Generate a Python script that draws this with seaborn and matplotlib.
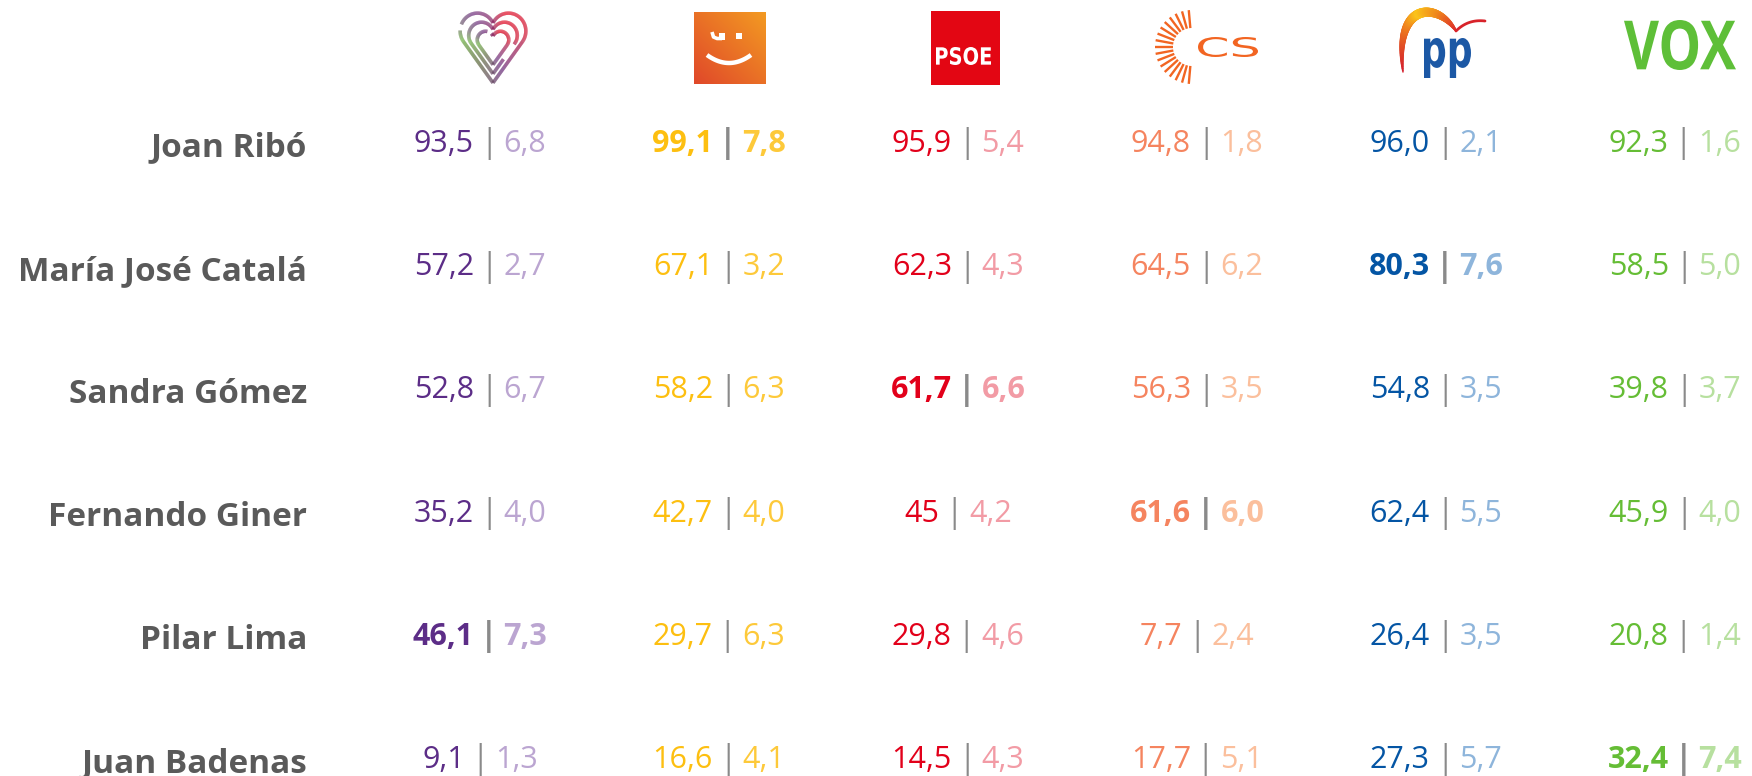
import numpy as np
import pandas as pd
import matplotlib
matplotlib.use("Agg")
import matplotlib.pyplot as plt
import seaborn as sns
from matplotlib.textpath import TextPath
from matplotlib.font_manager import FontProperties
from matplotlib.patches import PathPatch, Rectangle
from matplotlib.collections import LineCollection
from matplotlib.transforms import Affine2D, offset_copy
from matplotlib.colors import ListedColormap, LinearSegmentedColormap, to_rgb

# ---------------- data ----------------
candidates = ["Joan Ribó", "María José Catalá", "Sandra Gómez",
              "Fernando Giner", "Pilar Lima", "Juan Badenas"]
parties = ["Podem", "Compromís", "PSOE", "Cs", "PP", "VOX"]
own_party = ["Compromís", "PP", "PSOE", "Cs", "Podem", "VOX"]

# first figure of each cell (per candidate, in party order)
known_pct = [
    [93.5, 99.1, 95.9, 94.8, 96.0, 92.3],
    [57.2, 67.1, 62.3, 64.5, 80.3, 58.5],
    [52.8, 58.2, 61.7, 56.3, 54.8, 39.8],
    [35.2, 42.7, 45, 61.6, 62.4, 45.9],
    [46.1, 29.7, 29.8, 7.7, 26.4, 20.8],
    [9.1, 16.6, 14.5, 17.7, 27.3, 32.4],
]
# second figure of each cell
rating = [
    [6.8, 7.8, 5.4, 1.8, 2.1, 1.6],
    [2.7, 3.2, 4.3, 6.2, 7.6, 5.0],
    [6.7, 6.3, 6.6, 3.5, 3.5, 3.7],
    [4.0, 4.0, 4.2, 6.0, 5.5, 4.0],
    [7.3, 6.3, 4.6, 2.4, 3.5, 1.4],
    [1.3, 4.1, 4.3, 5.1, 5.7, 7.4],
]

main_colors = ["#5c2d87", "#fdbf10", "#e2001a", "#f5845f", "#0455a4", "#65bd35"]
light_colors = ["#bba5d1", "#fdc93a", "#f29ba5", "#fbbf9c", "#8eb5db", "#b7e09f"]
sep_color = "#8a8a8a"
name_color = "#5a5a5a"


def fmt(v):
    if isinstance(v, int):
        return str(v)
    return f"{v:.1f}".replace(".", ",")


sns.set_theme(style="white")
plt.rcParams["font.family"] = ["Open Sans", "DejaVu Sans"]

W, H = 1752, 776
fig = plt.figure(figsize=(W / 100, H / 100), dpi=100)
ax = fig.add_axes([0, 0, 1, 1])

df = pd.DataFrame(known_pct, index=candidates, columns=parties)
sns.heatmap(df, ax=ax, cmap=ListedColormap(["white"]), cbar=False,
            xticklabels=False, yticklabels=False, linewidths=0)

# map cells onto the page layout
col_px0, col_step = 480.0, 239.0
row_px0, row_step = 144.0, 123.2
ax.set_xlim(0.5 - col_px0 / col_step, 0.5 + (W - col_px0) / col_step)
ax.set_ylim(0.5 + (H - row_px0) / row_step, 0.5 - row_px0 / row_step)
ax.axis("off")

NUM_FS = 22
NAME_FS = 24
GAP = 6

groups = []
for r, cand in enumerate(candidates):
    ax.text(0.5 + (307 - col_px0) / col_step, r + 0.5 + 4 / row_step, cand,
            ha="right", va="center", fontsize=NAME_FS, fontweight="bold",
            color=name_color)
    for c, party in enumerate(parties):
        bold = own_party[r] == party
        wt = "bold" if bold else "normal"
        x, y = c + 0.5, r + 0.5
        t1 = ax.text(x, y, fmt(known_pct[r][c]), ha="left", va="center",
                     fontsize=NUM_FS, fontweight=wt, color=main_colors[c])
        t2 = ax.text(x, y, "|", ha="left", va="center", fontsize=NUM_FS + 1,
                     fontweight=wt, color=sep_color)
        t3 = ax.text(x, y, fmt(rating[r][c]), ha="left", va="center",
                     fontsize=NUM_FS, fontweight=wt, color=light_colors[c])
        groups.append((t1, t2, t3))

fig.canvas.draw()
rend = fig.canvas.get_renderer()
for t1, t2, t3 in groups:
    w1, w2, w3 = (t.get_window_extent(rend).width for t in (t1, t2, t3))
    total = w1 + w2 + w3 + 2 * GAP
    start = -total / 2
    t1.set_transform(offset_copy(ax.transData, fig=fig, x=start, y=0, units="dots"))
    t2.set_transform(offset_copy(ax.transData, fig=fig, x=start + w1 + GAP, y=0, units="dots"))
    t3.set_transform(offset_copy(ax.transData, fig=fig, x=start + w1 + w2 + 2 * GAP, y=0, units="dots"))

# ---------------- logos (pixel space, y down) ----------------
lax = fig.add_axes([0, 0, 1, 1])
lax.axis("off")
lax.patch.set_alpha(0)
col_centers = [ax.transData.transform((c + 0.5, 0))[0] for c in range(len(parties))]
LOGO_Y = 47


def fit_text(s, x0, y0, x1, y1, color, weight="bold", family="DejaVu Sans"):
    tp = TextPath((0, 0), s, size=100, prop=FontProperties(family=family, weight=weight))
    bb = tp.get_extents()
    sx, sy = (x1 - x0) / bb.width, (y1 - y0) / bb.height
    tr = Affine2D().translate(-bb.x0, -bb.y1).scale(sx, -sy).translate(x0, y0)
    lax.add_patch(PathPatch(tr.transform_path(tp), fc=color, ec="none"))


def grad_line(xs, ys, cvals, cmap, widths_px):
    pts = np.column_stack([xs, ys])
    segs = np.stack([pts[:-1], pts[1:]], axis=1)
    lc = LineCollection(segs, colors=cmap(cvals[:-1]),
                        linewidths=np.asarray(widths_px)[:-1] * 0.72,
                        capstyle="round")
    lax.add_collection(lc)


def heart_outline(a=0.5, R=0.56, h=1.62, n=400):
    """Heart made of two circular lobes and two tangent lines (y up)."""
    d = np.hypot(a, h)
    phi = np.arccos(R / d)
    thT = np.arctan2(-h, -a)
    th_tan = thT + phi
    th_dip = np.arctan2(np.sqrt(R ** 2 - a ** 2), -a)
    arc = np.linspace(th_dip, th_tan, n)
    rx, ry = a + R * np.cos(arc), R * np.sin(arc)
    lx = np.linspace(rx[-1], 0, n // 3)
    ly = np.linspace(ry[-1], -h, n // 3)
    right_x = np.concatenate([rx, lx[1:]])
    right_y = np.concatenate([ry, ly[1:]])
    xs = np.concatenate([right_x, -right_x[::-1][1:]])
    ys = np.concatenate([right_y, right_y[::-1][1:]])
    return xs, ys


# 1. Podem heart
cx = col_centers[0] + 13
heart_cmap = LinearSegmentedColormap.from_list("h", [
    (0.0, "#8a1d5c"), (0.1, "#e3001b"), (0.34, "#d0102e"), (0.46, "#6b2c7c"),
    (0.56, "#5f6a40"), (0.64, "#6ab23e"), (0.74, "#6a5a6a"), (0.84, "#6b2c7c"),
    (1.0, "#8a1d5c")])
hxs, hys = heart_outline()
hyc = (0.56 + (-1.62)) / 2
frac = np.linspace(0, 1, len(hxs))
gaps = [(0.70, 0.74), (0.38, 0.44), (0.90, 0.96)]
for k, (g0, g1) in zip([1.0, 0.74, 0.48], gaps):
    xs = cx + k * 31 * hxs
    ys = LOGO_Y + 1 - k * 32 * (hys - hyc)
    keep = ~((frac > g0) & (frac < g1))
    pts = np.column_stack([xs, ys])
    segs = np.stack([pts[:-1], pts[1:]], axis=1)
    m = keep[:-1] & keep[1:]
    lax.add_collection(LineCollection(segs[m], colors=heart_cmap(frac[:-1][m]),
                                      linewidths=2.5, capstyle="butt"))

# 2. Compromís square
cx = col_centers[1] + 11
x0, y0, s = cx - 36, LOGO_Y - 35, 72
u = np.linspace(0, 1, 60)
U, V = np.meshgrid(u, u)
tg = (U + (1 - V)) / 2
c0, c1 = np.array(to_rgb("#e0482a")), np.array(to_rgb("#f39a22"))
img = c0[None, None, :] * (1 - tg[..., None]) + c1[None, None, :] * tg[..., None]
lax.imshow(img, extent=(x0, x0 + s, y0 + s, y0), origin="upper", aspect="auto",
           interpolation="bilinear")
sx = np.linspace(13, 57, 60)
sy = 43 + 8 * (1 - ((sx - 35) / 22) ** 2)
lax.plot(x0 + sx, y0 + sy, color="white", lw=3.2, solid_capstyle="butt")
lax.plot(x0 + np.array([18, 19.5, 23, 28]), y0 + np.array([20, 25, 26.5, 26.5]),
         color="white", lw=2.6, solid_capstyle="butt")
lax.add_patch(Rectangle((x0 + 25, y0 + 21), 6, 6.5, fc="white", ec="none"))
lax.add_patch(Rectangle((x0 + 42, y0 + 21), 6, 6, fc="white", ec="none"))

# 3. PSOE
cx = col_centers[2] + 7
lax.add_patch(Rectangle((cx - 34.5, LOGO_Y - 36), 69, 74, fc="#e30613", ec="none"))
fit_text("PSOE", cx - 29, LOGO_Y, cx + 26, LOGO_Y + 18, "white")

# 4. Cs
cx = col_centers[3] + 8
bx, by = cx - 13, LOGO_Y
for ang in np.linspace(95, 265, 17):
    a = np.deg2rad(ang)
    lax.plot([bx + 19 * np.cos(a), bx + 37 * np.cos(a)],
             [by - 19 * np.sin(a), by - 37 * np.sin(a)],
             color="#f26522", lw=1.7, solid_capstyle="butt")
fit_text("CS", cx - 7, LOGO_Y - 10, cx + 53, LOGO_Y + 10, "#f26522",
         weight="normal")

# 5. PP
cx = col_centers[4] + 7
off = cx - 1445
tA = np.linspace(0, 1, 120)
P = np.array([[1405, 72], [1396, 0], [1440, 2], [1458, 31]], float)
P[:, 0] += off
P[:, 1] += LOGO_Y - 47
bez = ((1 - tA) ** 3)[:, None] * P[0] + (3 * (1 - tA) ** 2 * tA)[:, None] * P[1] \
    + (3 * (1 - tA) * tA ** 2)[:, None] * P[2] + (tA ** 3)[:, None] * P[3]
arc_cmap = LinearSegmentedColormap.from_list("pp", [
    (0, "#d41f2d"), (0.3, "#ef7d1d"), (0.5, "#fbc51b"), (0.75, "#f08a1c"), (1, "#dd2a2a")])
grad_line(bez[:, 0], bez[:, 1], tA, arc_cmap, 1.5 + 8.0 * np.sin(np.pi * tA) ** 0.8)
Q = np.array([[1458, 31], [1470, 19], [1487, 21]], float)
Q[:, 0] += off
Q[:, 1] += LOGO_Y - 47
qb = ((1 - tA) ** 2)[:, None] * Q[0] + (2 * (1 - tA) * tA)[:, None] * Q[1] + (tA ** 2)[:, None] * Q[2]
lax.plot(qb[:, 0], qb[:, 1], color="#d8232a", lw=2.0, solid_capstyle="round")
fit_text("pp", cx - 19, LOGO_Y - 9, cx + 28, LOGO_Y + 31, "#1c58a5")

# 6. VOX
cx = col_centers[5] + 5
fit_text("VOX", cx - 56, LOGO_Y - 27, cx + 56, LOGO_Y + 23, "#5ebf38",
         weight="bold", family="Open Sans")

lax.set_xlim(0, W)
lax.set_ylim(H, 0)

fig.savefig("out.png", dpi=100, facecolor="white")
